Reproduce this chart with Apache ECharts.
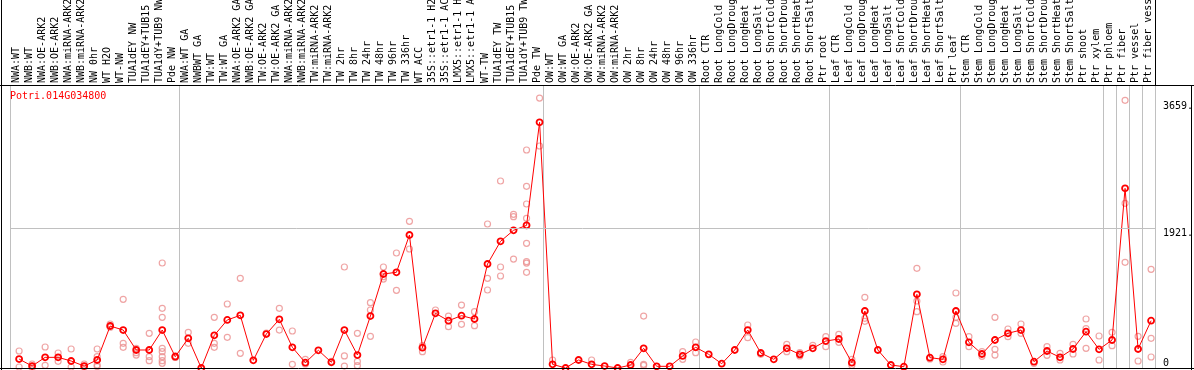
<!DOCTYPE html>
<html>
<head>
<meta charset="utf-8">
<script src="https://cdn.jsdelivr.net/npm/echarts@6/dist/echarts.min.js"></script>
<style>
html,body{margin:0;padding:0;background:#fff;}
#chart{width:1194px;height:370px;}
</style>
</head>
<body>
<div id="chart"></div>
<script>
const categories = [
  "NWA:WT","NWB:WT","NWA:OE-ARK2","NWB:OE-ARK2","NWA:miRNA-ARK2","NWB:miRNA-ARK2","NW 0hr","WT H2O","WT-NW","TUA1dEY NW","TUA1dEY+TUB15 NW","TUA1dY+TUB9 NW","Pde NW",
  "NWA:WT GA","NWBWT GA","TW:WT","TW:WT GA","NWA:OE-ARK2 GA","NWB:OE-ARK2 GA","TW:OE-ARK2","TW:OE-ARK2 GA","NWA:miRNA-ARK2 GA","NWB:miRNA-ARK2 GA","TW:miRNA-ARK2","TW:miRNA-ARK2 GA","TW 2hr","TW 8hr","TW 24hr","TW 48hr","TW 96hr","TW 336hr","WT ACC","35S::etr1-1 H2O","35S::etr1-1 ACC","LMX5::etr1-1 H2O","LMX5::etr1-1 ACC","WT-TW","TUA1dEY TW","TUA1dEY+TUB15 TW","TUA1dY+TUB9 TW","Pde TW",
  "OW:WT","OW:WT GA","OW:OE-ARK2","OW:OE-ARK2 GA","OW:miRNA-ARK2","OW:miRNA-ARK2 GA","OW 2hr","OW 8hr","OW 24hr","OW 48hr","OW 96hr","OW 336hr",
  "Root CTR","Root LongCold","Root LongDrought","Root LongHeat","Root LongSalt","Root ShortCold","Root ShortDrought","Root ShortHeat","Root ShortSalt","Ptr root",
  "Leaf CTR","Leaf LongCold","Leaf LongDrought","Leaf LongHeat","Leaf LongSalt","Leaf ShortCold","Leaf ShortDrought","Leaf ShortHeat","Leaf ShortSalt","Ptr leaf",
  "Stem CTR","Stem LongCold","Stem LongDrought","Stem LongHeat","Stem LongSalt","Stem ShortCold","Stem ShortDrought","Stem ShortHeat","Stem ShortSalt","Ptr shoot","Ptr xylem",
  "Ptr phloem","Ptr fiber","Ptr vessel","Ptr fiber vessel"
];

const means = [
  123,27,146,146,96,27,110,576,521,247,247,521,155,
  407,0,448,659,723,105,466,668,284,73,243,78,521,178,713,1290,1313,1825,279,750,649,718,672,1427,1738,1889,1957,3371,
  50,0,110,50,27,0,41,270,23,23,165,284,
  187,59,247,521,206,119,270,187,270,370,
  398,73,782,247,41,18,1011,142,119,782,
  352,192,384,476,521,87,233,146,261,498,256,
  384,2465,261,649
];

const replicates = [
  [233,14],[55,5],[288,37],[206,91],[261,14],[55,14],[261,155,41,20],[604,560],[942,339,284],[270,178,210],[476,155,101],[1441,819,695,270,224,155,101,64],[165,145],
  [489,339],[],[695,339,284],[878,421],[1230,201],[],[480],[819,521],[508,50],[119,55],[],[92],[1386,165,27],[476,90,32],[896,796,435],[1386,1253,1220],[1578,1066],[2013,1633],[306,224],[796],[713,567],[864,599],[773,581],[1976,1230,1070],[2566,1386,1262],[2108,2076,1495],[2991,2493,2250,2054,1711,1459,1440,1313],[3704,3046],
  [110],[],[],[110],[],[],[78],[713,50,36],[],[],[224,119],[357,210],
  [],[],[],[590,416],[187],[],[325,224],[210,165],[310],[430,293],
  [462,352],[119,37],[970,681,640],[],[],[],[1368,919,773],[124],[155,82],[1029,695,613],
  [430,293],[224,160],[695,256,178],[535,430],[604,476],[64],[293,174],[201,110],[325,192],[672,540,270],[439,110],
  [489,306],[3673,2260,1450],[435,96],[1354,407,151]
];

const groupStarts = [0,13,41,53,63,73,84,85,86,87];
const yTicksTop = [1921,3659];
const yTicksBottom = [0];
const gridValue = 1921;
const title = "Potri.014G034800";

const MONO = "DejaVu Sans Mono";
const YMAX = 3883;

const meanData = means.map((v,i)=>[i,v]);
const repData = [];
replicates.forEach((arr,i)=>arr.forEach(v=>repData.push([i,v])));

const sepInterval = function(index){ return groupStarts.indexOf(index) >= 0; };

const chart = echarts.init(document.getElementById('chart'), null, {renderer:'canvas'});
chart.setOption({
  animation:false,
  backgroundColor:'#ffffff',
  title:{
    text:title, left:10, top:91, padding:0,
    textStyle:{color:'#ff0000', fontFamily:MONO, fontSize:10, fontWeight:'normal'}
  },
  grid:{left:10, right:39, top:85, bottom:2, containLabel:false, outerBoundsMode:'none'},
  xAxis:[
    {type:'value', min:-0.7, max:87.3, show:false},
    {type:'category', position:'top', data:categories, boundaryGap:true,
     axisLine:{show:false},
     axisTick:{show:true, length:85, interval:sepInterval, lineStyle:{color:'#c0c0c0', width:1}},
     splitLine:{show:true, interval:sepInterval, lineStyle:{color:'#c0c0c0', width:1}},
     axisLabel:{show:true, interval:0, rotate:90, margin:2, fontFamily:MONO, fontSize:10, color:'#000', hideOverlap:false, padding:[4,0,0,0]}
    }
  ],
  yAxis:[
    {type:'value', position:'right', min:0, max:YMAX,
     axisLine:{show:false}, axisTick:{show:false}, splitLine:{show:false},
     axisLabel:{customValues:yTicksTop, formatter:function(v){return v+'.';}, margin:8, verticalAlign:'top',
       fontFamily:MONO, fontSize:10, color:'#000'}
    },
    {type:'value', position:'right', min:0, max:YMAX,
     axisLine:{show:false}, axisTick:{show:false}, splitLine:{show:false},
     axisLabel:{customValues:yTicksBottom, formatter:function(v){return String(v);}, margin:8, verticalAlign:'bottom',
       fontFamily:MONO, fontSize:10, color:'#000'}
    }
  ],
  series:[
    {type:'scatter', xAxisIndex:0, yAxisIndex:0, data:repData, symbol:'circle', symbolSize:6,
     itemStyle:{color:'rgba(0,0,0,0)', borderColor:'#eb8f8f', borderWidth:1.2}, z:2, silent:true,
     markLine:{silent:true, symbol:'none', label:{show:false}, lineStyle:{color:'#c0c0c0', width:1, type:'solid'},
       data:[{yAxis:gridValue}]}
    },
    {type:'line', xAxisIndex:0, yAxisIndex:0, data:meanData, symbol:'circle', symbolSize:6, showSymbol:true,
     lineStyle:{color:'#ff0000', width:1}, itemStyle:{color:'rgba(0,0,0,0)', borderColor:'#ff0000', borderWidth:1.8},
     z:3, silent:true}
  ],
  graphic:[
    {type:'line', shape:{x1:0, y1:85.5, x2:1194, y2:85.5}, style:{stroke:'#000', lineWidth:1}, silent:true, z:10},
    {type:'line', shape:{x1:0, y1:368.5, x2:1194, y2:368.5}, style:{stroke:'#000', lineWidth:1}, silent:true, z:10},
    {type:'line', shape:{x1:1.5, y1:0, x2:1.5, y2:370}, style:{stroke:'#000', lineWidth:1}, silent:true, z:10},
    {type:'line', shape:{x1:1191.5, y1:85, x2:1191.5, y2:370}, style:{stroke:'#000', lineWidth:1}, silent:true, z:10},
    {type:'line', shape:{x1:1155.5, y1:0, x2:1155.5, y2:85}, style:{stroke:'#000', lineWidth:1}, silent:true, z:10}
  ]
});
</script>
</body>
</html>
